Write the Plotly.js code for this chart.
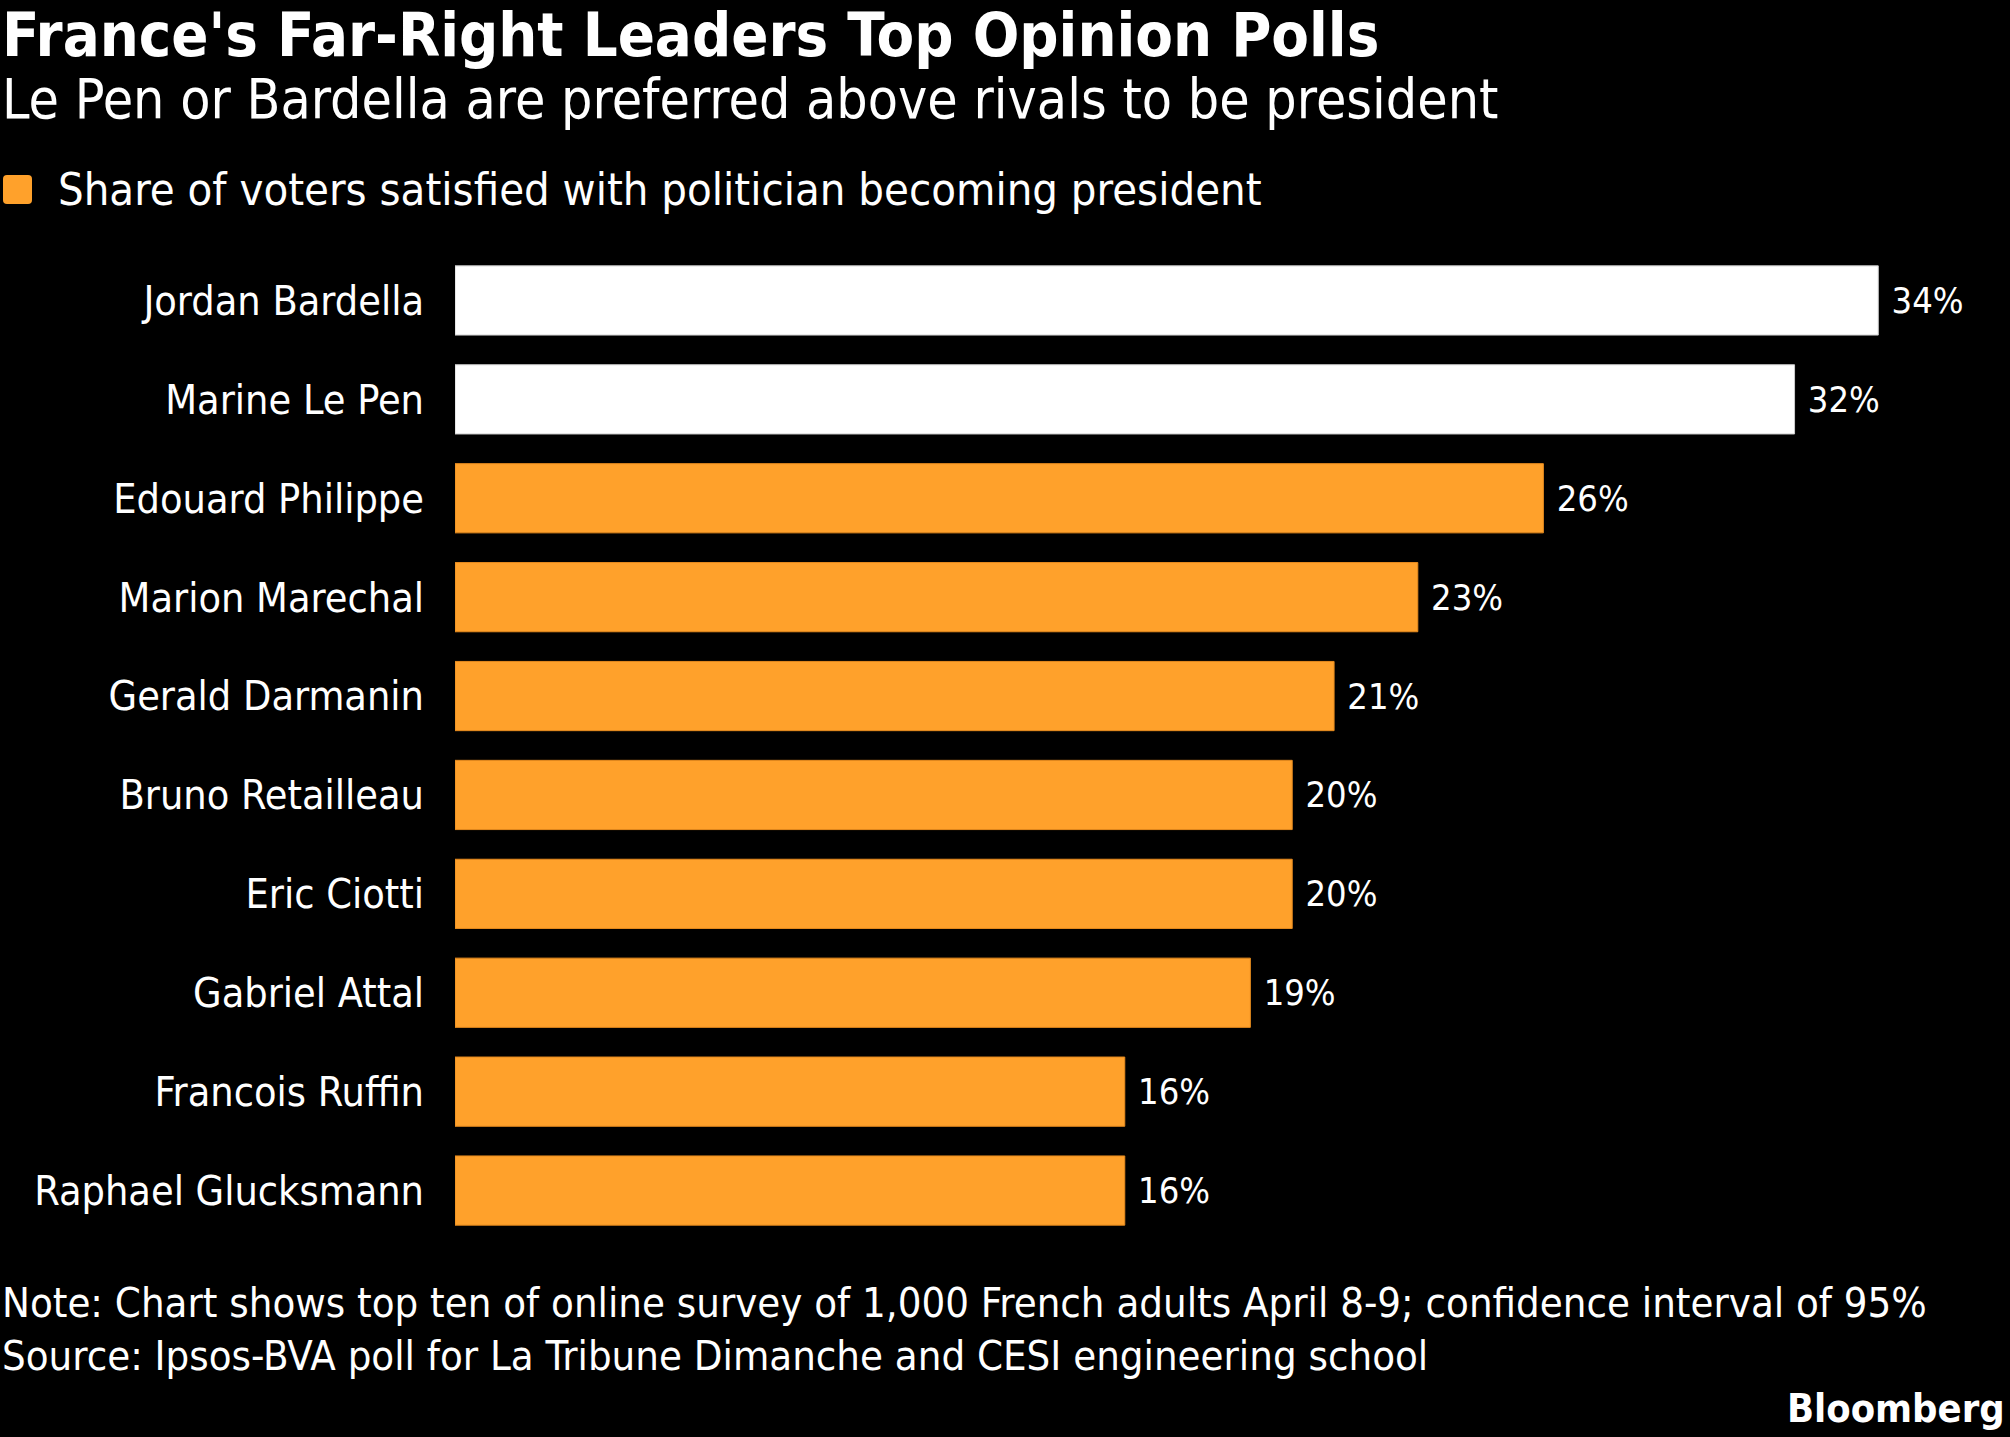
<!DOCTYPE html>
<html>
<head>
<meta charset="utf-8">
<script src="https://cdn.plot.ly/plotly-3.0.1.min.js"></script>
<style>
  html, body { margin: 0; padding: 0; background: #000; }
  #chart { width: 2010px; height: 1437px; }
</style>
</head>
<body>
<div id="chart"></div>
<script>
// ---- Data ----
const politicians = [
  'Jordan Bardella', 'Marine Le Pen', 'Edouard Philippe', 'Marion Marechal',
  'Gerald Darmanin', 'Bruno Retailleau', 'Eric Ciotti', 'Gabriel Attal',
  'Francois Ruffin', 'Raphael Glucksmann'
];
const satisfiedShare = [34, 32, 26, 23, 21, 20, 20, 19, 16, 16];
const farRightLeaders = ['Jordan Bardella', 'Marine Le Pen'];

const titleText = "France's Far-Right Leaders Top Opinion Polls";
const subtitleText = 'Le Pen or Bardella are preferred above rivals to be president';
const legendText = 'Share of voters satisfied with politician becoming president';
const noteText = 'Note: Chart shows top ten of online survey of 1,000 French adults April 8-9; confidence interval of 95%';
const sourceText = 'Source: Ipsos-BVA poll for La Tribune Dimanche and CESI engineering school';

// ---- Styles ----
const ORANGE = '#FFA12B';
const ORANGE_EDGE = '#E58A1E';
const WHITE = '#FFFFFF';
const WHITE_EDGE = '#CCCCCC';
const FONT = '"DejaVu Sans Condensed", "DejaVu Sans", sans-serif';
const W = 2010, H = 1437;
const M = { l: 455, r: 48, t: 251, b: 197 };
const PW = W - M.l - M.r, PH = H - M.t - M.b;
const px = v => (v - M.l) / PW;          // pixel x -> paper x
const py = v => (H - M.b - v) / PH;      // pixel y (from top) -> paper y

const barColors = politicians.map(n => farRightLeaders.includes(n) ? WHITE : ORANGE);
const edgeColors = politicians.map(n => farRightLeaders.includes(n) ? WHITE_EDGE : ORANGE_EDGE);

const trace = {
  type: 'bar',
  orientation: 'h',
  x: satisfiedShare,
  y: politicians,
  marker: { color: barColors, line: { color: edgeColors, width: 1 } },
  texttemplate: '\u00a0%{x}%',
  textposition: 'outside',
  cliponaxis: false,
  textfont: { family: FONT, size: 36, color: '#FFFFFF' },
  hoverinfo: 'skip',
  showlegend: false
};

function ann(text, xPix, yPix, size, anchor) {
  return { text: text, xref: 'paper', yref: 'paper', x: px(xPix), y: py(yPix),
    xanchor: anchor || 'left', yanchor: 'middle', showarrow: false,
    font: { family: FONT, size: size, color: '#FFFFFF' } };
}

// Legend swatch (rounded square)
const sx0 = 3, sx1 = 32, sy0 = 175, sy1 = 204, sr = 4;
const swatchPath = [
  'M', px(sx0 + sr), py(sy0),
  'L', px(sx1 - sr), py(sy0),
  'Q', px(sx1), py(sy0), px(sx1), py(sy0 + sr),
  'L', px(sx1), py(sy1 - sr),
  'Q', px(sx1), py(sy1), px(sx1 - sr), py(sy1),
  'L', px(sx0 + sr), py(sy1),
  'Q', px(sx0), py(sy1), px(sx0), py(sy1 - sr),
  'L', px(sx0), py(sy0 + sr),
  'Q', px(sx0), py(sy0), px(sx0 + sr), py(sy0), 'Z'
].join(' ');

const layout = {
  width: W, height: H,
  paper_bgcolor: '#000000',
  plot_bgcolor: '#000000',
  margin: { l: M.l, r: M.r, t: M.t, b: M.b, pad: 0 },
  bargap: 0.3,
  showlegend: false,
  hovermode: false,
  font: { family: FONT, color: '#FFFFFF', size: 42 },
  xaxis: {
    range: [0, 36], visible: false, showgrid: false, zeroline: false, fixedrange: true
  },
  yaxis: {
    autorange: 'reversed', showgrid: false, zeroline: false, showline: false,
    ticks: '', ticklabelstandoff: 30,
    tickfont: { family: FONT, size: 41, color: '#FFFFFF' },
    fixedrange: true
  },
  shapes: [
    { type: 'path', xref: 'paper', yref: 'paper', path: swatchPath,
      fillcolor: ORANGE, line: { width: 0 } }
  ],
  annotations: [
    ann('<b>' + titleText + '</b>', 0, 35, 61),
    ann(subtitleText, 0, 99, 55),
    ann(legendText, 56, 189, 45),
    ann(noteText, 0, 1302, 41.5),
    ann(sourceText, 0, 1355, 41.5),
    ann('<b>Bloomberg</b>', 2007, 1408, 39.5, 'right')
  ]
};

Plotly.newPlot('chart', [trace], layout, { staticPlot: true, displayModeBar: false });
</script>
</body>
</html>
